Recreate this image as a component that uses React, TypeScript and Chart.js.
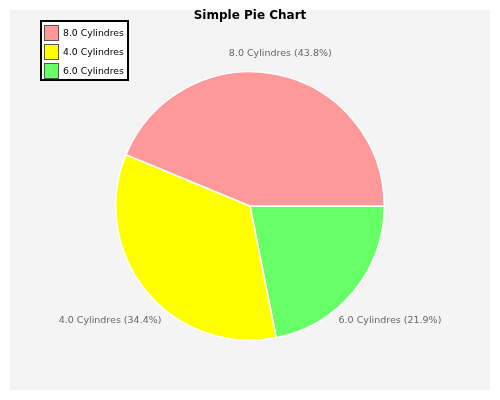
import React, { useEffect, useRef } from "react";
import { Chart, registerables } from "chart.js";

Chart.register(...registerables);

// Drawn clockwise from 3 o'clock, so listed in reverse of the legend order
const categories = ["6.0 Cylindres", "4.0 Cylindres", "8.0 Cylindres"];
const counts = [7, 11, 14];
const colors = ["#66FF66", "#FFFF00", "#FF9999"];
const titleText = "Simple Pie Chart";

const FONT = "'DejaVu Sans', sans-serif";

const decorPlugin = {
  id: "decor",
  beforeDraw(chart: any) {
    const ctx = chart.ctx;
    ctx.save();
    ctx.fillStyle = "#ffffff";
    ctx.fillRect(0, 0, chart.width, chart.height);
    ctx.fillStyle = "#f4f4f4";
    ctx.fillRect(10, 10, 480, 380);
    ctx.restore();
  },
  afterDraw(chart: any) {
    const ctx = chart.ctx;
    const meta = chart.getDatasetMeta(0);
    const data = chart.data.datasets[0].data as number[];
    const total = data.reduce((a, b) => a + b, 0);
    ctx.save();
    // title
    ctx.fillStyle = "#000";
    ctx.font = `bold 12px ${FONT}`;
    ctx.textAlign = "center";
    ctx.textBaseline = "middle";
    ctx.fillText(titleText, chart.width / 2, 16);

    // slice labels
    ctx.font = `9.5px ${FONT}`;
    ctx.fillStyle = "#666666";
    meta.data.forEach((arc: any, i: number) => {
      const mid = (arc.startAngle + arc.endAngle) / 2;
      const dx = Math.cos(mid);
      const dy = Math.sin(mid);
      const d = arc.outerRadius + 12 + 45 * Math.abs(dx);
      const x = arc.x + dx * d;
      const y = arc.y + dy * d;
      const pct = ((data[i] / total) * 100).toFixed(1);
      ctx.fillText(`${chart.data.labels[i]} (${pct}%)`, x, y);
    });

    // legend box
    const lx = 40, ly = 20, lw = 89, lh = 61;
    ctx.fillStyle = "#ffffff";
    ctx.fillRect(lx, ly, lw, lh);
    ctx.strokeStyle = "#000";
    ctx.lineWidth = 2;
    ctx.strokeRect(lx + 1, ly + 1, lw - 2, lh - 2);
    ctx.textAlign = "left";
    ctx.font = `9.3px ${FONT}`;
    const n = chart.data.labels.length;
    for (let k = 0; k < n; k++) {
      const i = n - 1 - k;
      const rowY = ly + 13 + k * 19;
      ctx.fillStyle = colors[i];
      ctx.fillRect(44.5, rowY - 7, 14, 14);
      ctx.strokeStyle = "#555555";
      ctx.lineWidth = 1;
      ctx.strokeRect(44.5, rowY - 7.5, 14, 15);
      ctx.fillStyle = "#000";
      ctx.fillText(chart.data.labels[i], 63, rowY + 1);
    }
    ctx.restore();
  },
};

export default function App() {
  const ref = useRef<HTMLCanvasElement | null>(null);
  useEffect(() => {
    if (!ref.current) return;
    const chart = new Chart(ref.current, {
      type: "pie",
      data: {
        labels: categories,
        datasets: [
          {
            data: counts,
            backgroundColor: colors,
            borderColor: "#ffffff",
            borderWidth: 1.5,
          },
        ],
      },
      options: {
        animation: false,
        responsive: false,
        rotation: 90,
        layout: { padding: { left: 115, right: 115, top: 71, bottom: 59 } },
        plugins: {
          legend: { display: false },
          title: { display: false },
          tooltip: { enabled: false },
        },
      },
      plugins: [decorPlugin],
    });
    return () => chart.destroy();
  }, []);
  return (
    <div style={{ position: "absolute", left: 0, top: 0, width: 500, height: 400 }}>
      <canvas ref={ref} width={500} height={400} style={{ width: 500, height: 400 }} />
    </div>
  );
}
